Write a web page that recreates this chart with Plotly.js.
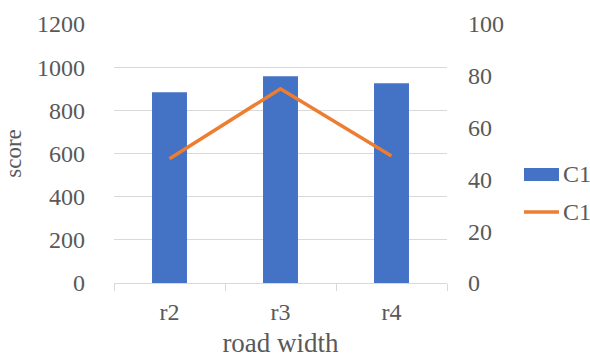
<!DOCTYPE html>
<html>
<head>
<meta charset="utf-8">
<script src="https://cdn.plot.ly/plotly-3.0.1.min.js"></script>
<style>
  html, body { margin: 0; padding: 0; background: #fff; }
  #chart { width: 590px; height: 358px; }
</style>
</head>
<body>
<div id="chart"></div>
<script>
// Road width categories
const categories = ["r2", "r3", "r4"];
// Series names
const seriesNames = ["C1", "C1"];
// Score per road width (bars, left axis)
const scoreValues = [884, 958, 925];
// Second C1 series (line, right axis)
const lineValues = [48, 75, 49];
// Axis tick labels
const leftTicks = [0, 200, 400, 600, 800, 1000, 1200];
const rightTicks = [0, 20, 40, 60, 80, 100];

const serif = "Liberation Serif, Times New Roman, serif";
const grey = "#595959";
const barColor = "#4472C4";
const lineColor = "#ED7D31";

const traces = [
  {
    type: "bar",
    name: seriesNames[0],
    x: categories,
    y: scoreValues,
    width: 0.315,
    marker: { color: barColor },
    yaxis: "y"
  },
  {
    type: "scatter",
    mode: "lines",
    name: seriesNames[1],
    x: categories,
    y: lineValues,
    line: { color: lineColor, width: 3.5 },
    yaxis: "y2"
  }
];

// Legend drawn to the right of the plot: a wide bar swatch and a line sample
const legendShapes = [
  { type: "rect", xref: "paper", yref: "paper",
    x0: 1.2312, x1: 1.3363, y0: 0.3938, y1: 0.444,
    fillcolor: barColor, line: { width: 0 } },
  { type: "line", xref: "paper", yref: "paper",
    x0: 1.2312, x1: 1.3363, y0: 0.2741, y1: 0.2741,
    line: { color: lineColor, width: 3.5 } }
];
const legendLabels = [
  { xref: "paper", yref: "paper", x: 1.3423, y: 0.419, xanchor: "left", yanchor: "middle",
    text: seriesNames[0], showarrow: false, font: { family: serif, size: 24, color: grey } },
  { xref: "paper", yref: "paper", x: 1.3423, y: 0.2741, xanchor: "left", yanchor: "middle",
    text: seriesNames[1], showarrow: false, font: { family: serif, size: 24, color: grey } }
];

const layout = {
  width: 590,
  height: 358,
  margin: { l: 114, r: 143, t: 24, b: 75 },
  paper_bgcolor: "#fff",
  plot_bgcolor: "#fff",
  font: { family: serif, size: 24, color: grey },
  showlegend: false,
  shapes: legendShapes,
  annotations: legendLabels,
  xaxis: {
    type: "category",
    range: [-0.5, 2.5],
    automargin: false,
    showline: true,
    linecolor: "#D9D9D9",
    linewidth: 1,
    ticks: "outside",
    tickson: "boundaries",
    ticklen: 7,
    tickcolor: "#D9D9D9",
    showgrid: false,
    ticklabelstandoff: 7,
    tickfont: { family: serif, size: 24, color: grey },
    title: { text: "road width", font: { family: serif, size: 27, color: grey }, standoff: 10 }
  },
  yaxis: {
    range: [0, 1200],
    automargin: false,
    tickvals: leftTicks,
    ticktext: leftTicks.map(String),
    showgrid: true,
    gridcolor: "#D9D9D9",
    gridwidth: 1,
    zeroline: false,
    showline: false,
    ticks: "",
    ticklabelstandoff: 28,
    tickfont: { family: serif, size: 24, color: grey },
    title: { text: "score", font: { family: serif, size: 23, color: grey }, standoff: 8 }
  },
  yaxis2: {
    overlaying: "y",
    side: "right",
    range: [0, 100],
    automargin: false,
    tickvals: rightTicks,
    ticktext: rightTicks.map(String),
    showgrid: false,
    zeroline: false,
    showline: false,
    ticks: "",
    ticklabelstandoff: 20,
    tickfont: { family: serif, size: 24, color: grey }
  }
};

Plotly.newPlot("chart", traces, layout, { staticPlot: true, displayModeBar: false });
</script>
</body>
</html>
